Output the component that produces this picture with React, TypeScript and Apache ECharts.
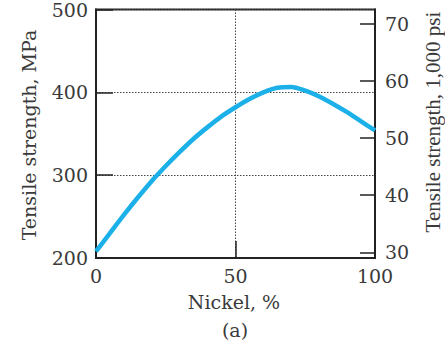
import React, { useEffect, useRef } from "react";
import * as echarts from "echarts";

const nickelPct = [0, 5, 10, 15, 20, 25, 30, 35, 40, 45, 50, 55, 60, 65, 70, 75, 80, 85, 90, 95, 100];
const strengthMPa = [208, 230, 252, 273, 293, 311, 328, 344, 358, 371, 382, 392, 400, 405.5, 406.5, 402, 395, 386, 376, 365, 354];
const leftTicks = [200, 300, 400, 500];
const rightTicks = [30, 40, 50, 60, 70];
const xTicks = [0, 50, 100];
const MPA_PER_KSI = 6.895;

const FONT = "DejaVu Serif";
const TXT = "#3a3a3a";
const LINE = "#222";

export default function App() {
  const ref = useRef<HTMLDivElement>(null);
  useEffect(() => {
    if (!ref.current) return;
    const chart = echarts.init(ref.current, null, { renderer: "svg" });
    const data = nickelPct.map((x, i) => [x, strengthMPa[i]]);
    const dotted = { type: [1.5, 1.5], color: "#444", width: 1 };
    chart.setOption({
      animation: false,
      grid: {
        left: 96,
        right: 70,
        top: 8,
        bottom: 86,
        show: true,
        borderColor: LINE,
        borderWidth: 2,
        backgroundColor: "transparent",
      },
      xAxis: {
        type: "value",
        min: xTicks[0],
        max: xTicks[xTicks.length - 1],
        interval: 50,
        axisLine: { show: true, lineStyle: { color: LINE, width: 2 } },
        axisTick: { show: true, inside: true, length: 17, lineStyle: { color: LINE, width: 1.5 } },
        axisLabel: { fontFamily: FONT, fontSize: 19, color: TXT, margin: 8 },
        splitLine: { show: true, lineStyle: dotted },
      },
      yAxis: [
        {
          type: "value",
          min: leftTicks[0],
          max: leftTicks[leftTicks.length - 1],
          interval: 100,
          position: "left",
          axisLine: { show: true, lineStyle: { color: LINE, width: 2 } },
          axisTick: { show: true, inside: true, length: 17, lineStyle: { color: LINE, width: 1.5 } },
          axisLabel: { fontFamily: FONT, fontSize: 19, color: TXT, margin: 8 },
          splitLine: { show: true, lineStyle: dotted },
        },
        {
          type: "value",
          min: leftTicks[0] / MPA_PER_KSI,
          max: leftTicks[leftTicks.length - 1] / MPA_PER_KSI,
          position: "right",
          axisLine: { show: true, lineStyle: { color: LINE, width: 2 } },
          axisTick: { show: true, inside: true, length: 15, customValues: rightTicks, lineStyle: { color: LINE, width: 1.5 } },
          axisLabel: { fontFamily: FONT, fontSize: 19, color: TXT, margin: 10, customValues: rightTicks },
          splitLine: { show: false },
        },
      ],
      series: [
        {
          type: "line",
          data,
          smooth: 0.3,
          showSymbol: false,
          yAxisIndex: 0,
          lineStyle: { color: "#1bb0e8", width: 4.5 },
        },
      ],
      graphic: [
        {
          type: "text",
          x: 29,
          y: 135,
          rotation: Math.PI / 2,
          style: { text: "Tensile strength, MPa", font: `19px '${FONT}'`, fill: TXT, align: "center", verticalAlign: "middle" },
        },
        {
          type: "text",
          x: 433,
          y: 122,
          rotation: Math.PI / 2,
          style: { text: "Tensile strength, 1,000 psi", font: "21px 'Liberation Serif'", fill: TXT, align: "center", verticalAlign: "middle" },
        },
        {
          type: "text",
          x: 234,
          y: 302,
          style: { text: "Nickel, %", font: `19px '${FONT}'`, fill: TXT, align: "center", verticalAlign: "middle" },
        },
        {
          type: "text",
          x: 235,
          y: 330,
          style: { text: "(a)", font: `19px '${FONT}'`, fill: TXT, align: "center", verticalAlign: "middle" },
        },
      ],
    });
    return () => chart.dispose();
  }, []);
  return <div ref={ref} style={{ width: 445, height: 344, position: "absolute", left: 0, top: 0 }} />;
}
